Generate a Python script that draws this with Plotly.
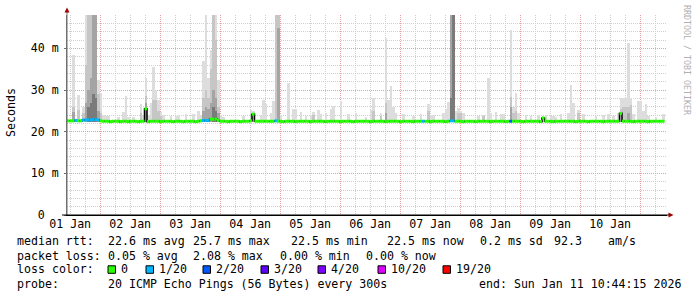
import pandas as pd
import plotly.graph_objects as go

# ---------------- data ----------------
START = pd.Timestamp("2026-01-01 10:44:15")
END = pd.Timestamp("2026-01-11 10:44:15")
STEP_H = 1.0  # hourly consolidated bins

# median RTT per hourly bin (ms); None = no data
median_ms = [
    22.6, 22.6, 22.6, 22.7, 22.6, 22.6, 22.8, 22.8, 22.8, 22.8, 22.9, 22.9, 22.8, 22.6, 22.5, 22.5, 22.5, 22.4, 22.5, 22.5,
    22.5, 22.4, 22.5, 22.5, 22.4, 22.5, 22.5, 22.5, 22.4, 22.5, 22.5, 25.5, 22.4, 22.5, 22.5, 22.5, 22.5, 22.4, 22.5, 22.5,
    22.5, 22.5, 22.4, 22.5, 22.5, 22.5, 22.4, 22.5, 22.5, 22.5, 22.5, 22.4, 22.5, 22.6, 22.7, 22.7, 22.7, 23.0, 23.0, 23.0,
    22.7, 22.5, 22.5, 22.5, 22.4, 22.5, 22.5, 22.5, 22.5, 22.4, 22.5, 22.5, 22.5, 22.6, 24.2, 22.5, 22.5, 22.5, 22.5, 22.5,
    22.5, 22.5, 22.5, 22.6, 22.5, 22.5, 22.4, 22.5, 22.5, 22.5, 22.5, 22.4, 22.5, 22.5, 22.5, 22.5, 22.5, 22.4, 22.5, 22.5,
    22.5, 22.5, 22.5, 22.4, 22.5, 22.5, 22.5, 22.5, 22.5, 22.4, 22.5, 22.5, 22.5, 22.5, 22.4, 22.5, 22.5, 22.5, 22.5, 22.5,
    22.5, 22.4, 22.5, 22.5, 22.5, 22.5, 22.5, 22.4, 22.5, 22.5, 22.5, 22.5, 22.5, 22.4, 22.5, 22.5, 22.5, 22.5, 22.4, 22.5,
    22.5, 22.5, 22.5, 22.5, 22.5, 22.4, 22.5, 22.5, 22.5, 22.5, 22.5, 22.4, 22.5, 22.6, 22.6, 22.5, 22.5, 22.5, 22.4, 22.5,
    22.5, 22.5, 22.5, 22.4, 22.5, 22.5, 22.5, 22.5, 22.5, 22.4, 22.5, 22.5, 22.5, 22.5, 22.5, 22.4, 22.5, 22.5, 22.5, 22.5,
    22.5, 22.5, 22.4, 22.5, 22.5, 22.5, 22.5, 22.5, 22.5, 22.4, 23.3, 22.5, 22.5, 22.5, 22.4, 22.5, 22.5, 22.5, 22.5, 22.5,
    22.5, 22.5, 22.5, 22.4, 22.5, 22.5, 22.5, 22.5, 22.4, 22.5, 22.5, 22.5, 22.5, 22.5, 22.4, 22.5, 22.5, 22.5, 22.5, 22.5,
    22.5, 24.4, 22.5, 22.5, 22.5, 22.5, 22.4, 22.5, 22.5, 22.5, 22.5, 22.5, 22.4, 22.5, 22.5, 22.5, 22.5, 22.5, 22.5, None,
]

# bins with packet loss (level = lost pings out of 20)
loss_bins = [3, 6, 7, 8, 9, 10, 11, 12, 54, 55, 56, 83, 142, 153, 154, 177]
loss_level = [1, 1, 1, 1, 1, 1, 1, 1, 1, 1, 1, 1, 1, 1, 1, 2]

# smoke (ping spread) upper bounds, lightest to darkest band (ms)
SMOKE_BASE = 22.3
smoke1_bins = [2, 4, 6, 7, 8, 9, 10, 11, 12, 13, 14, 15, 16, 20, 22, 23, 24, 26, 29, 30, 31, 32, 33, 34, 35, 36, 37, 38,
               41, 43, 44, 47, 50, 52, 53, 54, 55, 56, 57, 58, 59, 60, 61, 62, 70, 73, 74, 77, 78, 79, 81, 82, 83, 84, 85,
               88, 90, 91, 93, 95, 97, 98, 100, 101, 103, 105, 106, 109, 112, 115, 119, 121, 122, 125, 127, 128, 129,
               130, 131, 134, 138, 141, 144, 145, 146, 150, 151, 152, 153, 154, 155, 156, 157, 158, 164, 166, 168, 169,
               171, 173, 174, 177, 178, 179, 180, 183, 185, 188, 191, 193, 194, 195, 197, 200, 201, 202, 204, 206, 211,
               214, 216, 218, 220, 221, 222, 223, 224, 225, 226, 228, 229, 230, 231, 232, 235, 238]
smoke1_tops = [38.4, 28.8, 26.0, 50, 50, 50, 50, 50, 32.5, 29.2, 24.0, 23.8, 23.8, 23.6, 24.8, 28.5, 23.5, 23.6, 26.6, 24.0,
               32.8, 24.0, 27.0, 35.5, 30.0, 27.5, 24.7, 24.0,
               23.8, 23.8, 24.0, 24.2, 24.2, 25.0, 24.0, 37.0, 50, 33.0, 39.6, 50, 50, 32.4, 24.0, 23.6, 23.7, 25.2, 25.0,
               24.0, 27.6, 26.6, 24.5, 27.4, 50, 50, 24.0,
               31.8, 25.4, 25.4, 24.8, 23.7, 24.0, 24.8, 25.2, 24.2, 24.5, 25.4, 26.1, 27.4, 24.3, 24.6, 23.6, 25.3, 28.1,
               24.5, 42.4, 27.6, 31.0,
               26.0, 24.5, 24.2, 23.7, 24.2, 26.6, 24.0, 24.0, 24.4, 25.5, 27.2, 50, 50, 25.0, 25.8, 25.0, 24.5, 23.7,
               24.0, 33.0, 24.5,
               24.8, 24.3, 24.2, 44.4, 26.0, 29.2, 24.5, 24.0, 23.7, 24.0, 24.0, 23.8, 23.8, 23.6, 24.2, 24.6, 31.2, 26.9,
               25.2, 24.2, 23.7,
               24.0, 24.2, 23.8, 24.5, 28.2, 28.2, 28.2, 41.4, 28.2, 24.2, 27.4, 27.4, 24.9, 26.6, 23.8, 23.6, 24.2]
smoke2_bins = [2, 4, 6, 7, 8, 9, 10, 11, 12, 13, 29, 31, 34, 35, 36, 37, 54, 55, 56, 57, 58, 59, 60, 73, 74, 83, 84, 98,
               122, 125, 127, 144, 153, 154, 156, 157, 166, 177, 178, 179, 204, 221, 222, 223, 224, 225]
smoke2_tops = [26.0, 25.3, 24.5, 36.0, 50, 50, 50, 50, 29.0, 24.5, 24.5, 28.5, 27.6, 27.5, 25.0, 23.8, 28.0, 30.0, 28.0,
               35.0, 50, 42.0, 26.0, 24.2, 24.5, 50, 50, 24.0,
               25.0, 23.8, 26.9, 25.0, 50, 50, 24.5, 24.5, 23.8, 28.4, 24.5, 25.0, 24.5, 25.5, 26.0, 26.0, 26.0, 26.5]
smoke3_bins = [2, 7, 8, 9, 10, 11, 12, 31, 54, 55, 56, 57, 58, 59, 60, 84, 127, 153, 154, 177, 224]
smoke3_tops = [24.7, 27.0, 30.0, 33.0, 50, 50, 25.0, 27.0, 25.0, 26.0, 25.5, 27.0, 30.0, 28.0, 24.5, 45.0, 24.5, 50, 50,
               26.0, 24.5]
smoke4_bins = [8, 9, 10, 11, 58, 59, 153, 154]
smoke4_tops = [26.0, 27.0, 29.0, 28.0, 26.0, 25.0, 28.0, 50]

loss_colors = {0: "#26ff00", 1: "#00b8ff", 2: "#0059ff", 3: "#5e00ff", 4: "#7e00ff", 10: "#dd00ff", 19: "#ff0000"}
legend_levels = [0, 1, 2, 3, 4, 10, 19]

y_tick_vals = [0, 10, 20, 30, 40]
y_tick_text = ["0\u00a0\u00a0", "10 m", "20 m", "30 m", "40 m"]

stats_rows = [
    [(16, "median rtt:"), (107, "22.6 ms avg"), (192, "25.7 ms max"), (290, "22.5 ms min"),
     (386, "22.5 ms now"), (479, "0.2 ms sd"), (553, "92.3"), (607, "am/s")],
    [(16, "packet loss:"), (107, "0.05 % avg"), (192, "2.08 % max"), (279, "0.00 % min"), (365, "0.00 % now")],
    [(16, "loss color:")],
    [(16, "probe:"), (107, "20 ICMP Echo Pings (56 Bytes) every 300s"), (478, "end: Sun Jan 11 10:44:15 2026")],
]
legend_box_x = [108, 146, 203, 261, 318, 378, 443]

# ---------------- layout geometry ----------------
W, H = 697, 297
L, R, T, B = 67, 30, 15, 82
PW, PH = W - L - R, H - T - B
FONT = "DejaVu Sans Mono"
FS = 11.6


def pxx(x):
    return (x - L) / PW


def pxy(y):
    return (T + PH - y) / PH


hour = pd.Timedelta(hours=STEP_H)
fig = go.Figure()

smoke_layers = [(smoke1_bins, smoke1_tops, "#dddddd"), (smoke2_bins, smoke2_tops, "#c6c6c6"),
                (smoke3_bins, smoke3_tops, "#a4a4a4"), (smoke4_bins, smoke4_tops, "#7a7a7a")]
for bins, tops, col in smoke_layers:
    fig.add_trace(go.Bar(
        x=[START + hour * (b + 0.5) for b in bins],
        y=[t - SMOKE_BASE for t in tops],
        base=SMOKE_BASE, width=3600 * 1000 * STEP_H,
        marker=dict(color=col, line=dict(width=0)),
        showlegend=False, hoverinfo="skip"))

# black step outline of the median
n = len(median_ms)
fig.add_trace(go.Scatter(
    x=[START + hour * i for i in range(n + 1)],
    y=median_ms + [median_ms[-1]],
    mode="lines", line=dict(color="#000000", width=1.5, shape="hv"),
    connectgaps=False, showlegend=False, hoverinfo="skip"))

# coloured median segments by loss
level_of = {b: lv for b, lv in zip(loss_bins, loss_level)}
groups = {}
for i, m in enumerate(median_ms):
    if m is None:
        continue
    lv = level_of.get(i, 0)
    xs, ys = groups.setdefault(lv, ([], []))
    xs += [START + hour * i, START + hour * (i + 1), None]
    ys += [m, m, None]
for lv, (xs, ys) in groups.items():
    fig.add_trace(go.Scatter(x=xs, y=ys, mode="lines",
                             line=dict(color=loss_colors[lv], width=3),
                             showlegend=False, hoverinfo="skip"))

# invisible trace carrying the label axis
fig.add_trace(go.Scatter(x=[START, END], y=[0, 0], xaxis="x2", mode="markers",
                         marker=dict(opacity=0), showlegend=False, hoverinfo="skip"))

grid_red = "#e3a0a0"
grid_gray = "#cfcfcf"
dash = "1px,1px"

fig.update_layout(
    width=W, height=H, margin=dict(l=L, r=R, t=T, b=B),
    paper_bgcolor="white", plot_bgcolor="white",
    barmode="overlay", bargap=0,
    font=dict(family=FONT, size=FS, color="black"),
    xaxis=dict(type="date", range=[START, END], tick0="2026-01-02 00:00:00", dtick=86400000,
               showticklabels=False, ticks="", showgrid=True, gridcolor=grid_red, griddash=dash,
               gridwidth=1, zeroline=False, showline=True, linecolor="#000000", linewidth=1,
               minor=dict(tick0="2026-01-01 00:00:00", dtick=21600000, showgrid=True,
                          gridcolor=grid_gray, griddash=dash, gridwidth=1, ticks="")),
    xaxis2=dict(type="date", range=[START, END], overlaying="x", anchor="y", side="bottom",
                tick0="2026-01-01 12:00:00", dtick=86400000, tickformat="%d %b",
                showgrid=False, ticks="", showline=False, zeroline=False,
                tickfont=dict(family=FONT, size=FS, color="black")),
    yaxis=dict(range=[0, 48], tickvals=y_tick_vals, ticktext=y_tick_text,
               showgrid=True, gridcolor=grid_red, griddash=dash, gridwidth=1, zeroline=False,
               showline=True, linecolor="#707070", linewidth=1, ticks="outside", ticklen=2,
               tickcolor="#707070", ticklabelstandoff=3,
               tickfont=dict(family=FONT, size=FS, color="black"),
               minor=dict(dtick=2, showgrid=True, gridcolor=grid_gray, griddash=dash, gridwidth=1)),
)

ann = []
for r, row in enumerate(stats_rows):
    yc = [240.7, 255.7, 269.3, 284.0][r]
    for x, txt in row:
        ann.append(dict(x=pxx(x - 1), y=pxy(yc), xref="paper", yref="paper", text=txt,
                        showarrow=False, xanchor="left", yanchor="middle",
                        font=dict(family=FONT, size=FS, color="black")))
shapes = []
for bx, lv in zip(legend_box_x, legend_levels):
    shapes.append(dict(type="rect", xref="paper", yref="paper",
                       x0=pxx(bx), x1=pxx(bx + 7.5), y0=pxy(273.3), y1=pxy(265.8),
                       fillcolor=loss_colors[lv], line=dict(color="black", width=1)))
    label = "0" if lv == 0 else f"{lv}/20"
    ann.append(dict(x=pxx(bx + 11), y=pxy(269.3), xref="paper", yref="paper", text=label,
                    showarrow=False, xanchor="left", yanchor="middle",
                    font=dict(family=FONT, size=FS, color="black")))

ann.append(dict(x=pxx(11), y=pxy(113), xref="paper", yref="paper", text="Seconds",
                showarrow=False, textangle=-90, xanchor="center", yanchor="middle",
                font=dict(family=FONT, size=FS, color="black")))
ann.append(dict(x=pxx(687), y=pxy(60), xref="paper", yref="paper", text="RRDTOOL / TOBI OETIKER",
                showarrow=False, textangle=90, xanchor="center", yanchor="middle",
                font=dict(family=FONT, size=8.3, color="#b0b0b0")))

arrow_col = "#a00000"
shapes.append(dict(type="line", xref="paper", yref="paper", x0=pxx(67), x1=pxx(67),
                   y0=pxy(215), y1=pxy(11), line=dict(color="#707070", width=1)))
shapes.append(dict(type="line", xref="paper", yref="paper", x0=pxx(62), x1=pxx(670),
                   y0=pxy(215), y1=pxy(215), line=dict(color="#000000", width=1)))
shapes.append(dict(type="path", xref="paper", yref="paper",
                   path=f"M {pxx(64.5)} {pxy(12.5)} L {pxx(69.5)} {pxy(12.5)} L {pxx(67)} {pxy(7.5)} Z",
                   fillcolor=arrow_col, line=dict(color=arrow_col, width=0)))
shapes.append(dict(type="path", xref="paper", yref="paper",
                   path=f"M {pxx(668.5)} {pxy(212.5)} L {pxx(668.5)} {pxy(217.5)} L {pxx(673.5)} {pxy(215)} Z",
                   fillcolor=arrow_col, line=dict(color=arrow_col, width=0)))

fig.update_layout(annotations=ann, shapes=shapes)
fig.write_html("out.html")
